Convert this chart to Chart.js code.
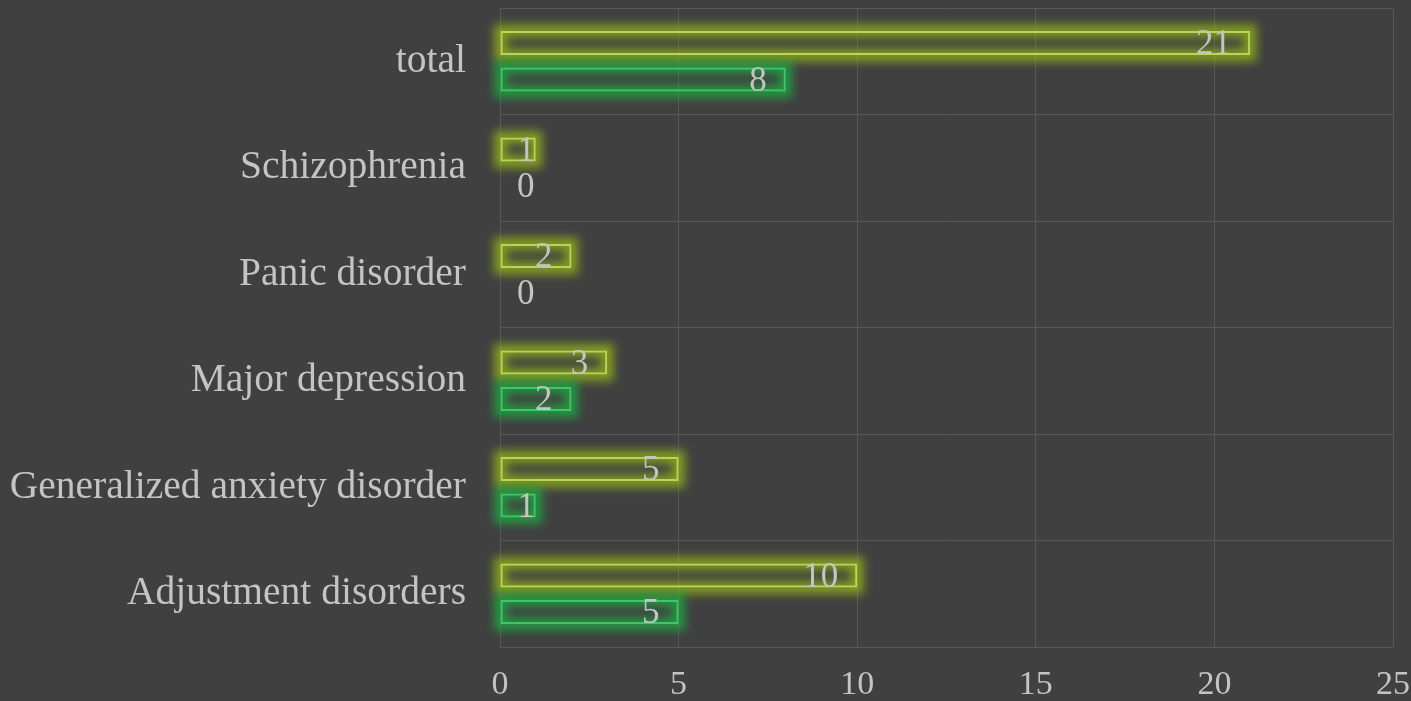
<!DOCTYPE html>
<html>
<head>
<meta charset="utf-8">
<script src="https://cdn.jsdelivr.net/npm/chart.js@4"></script>
<style>
  html, body { margin: 0; padding: 0; background: #404040; }
  #wrap { width: 1411px; height: 701px; }
</style>
</head>
<body>
<div id="wrap"><canvas id="myChart" width="1411" height="701"></canvas></div>
<script>
var categories = ['total', 'Schizophrenia', 'Panic disorder', 'Major depression', 'Generalized anxiety disorder', 'Adjustment disorders'];
var seriesA = [21, 1, 2, 3, 5, 10];
var seriesB = [8, 0, 0, 2, 1, 5];
var xTicks = [0, 5, 10, 15, 20, 25];

var textColor = '#c4c4c4';
var serif = "'Liberation Serif', 'Times New Roman', serif";

function noPad(scale) {
    scale.paddingLeft = 0;
    scale.paddingRight = 0;
    scale.paddingTop = 0;
    scale.paddingBottom = 0;
}

// soft neon glow behind each bar outline
var glowPlugin = {
    id: 'glow',
    beforeDatasetsDraw: function(chart) {
        var ctx = chart.ctx;
        chart.data.datasets.forEach(function(ds, di) {
            var meta = chart.getDatasetMeta(di);
            meta.data.forEach(function(el, i) {
                if (!ds.data[i]) return;
                var left = Math.min(el.x, el.base);
                var w = Math.abs(el.x - el.base);
                var top = el.y - el.height / 2;
                ctx.save();
                ctx.filter = 'blur(5px)';
                ctx.strokeStyle = ds.glowColor;
                ctx.lineWidth = 13;
                ctx.strokeRect(left, top, w, el.height);
                ctx.restore();
            });
        });
    }
};

// value labels, inside the end of the bar
var labelPlugin = {
    id: 'valueLabels',
    afterDatasetsDraw: function(chart) {
        var ctx = chart.ctx;
        ctx.save();
        ctx.font = '35px ' + serif;
        ctx.fillStyle = textColor;
        ctx.textBaseline = 'middle';
        ctx.textAlign = 'left';
        chart.data.datasets.forEach(function(ds, di) {
            var meta = chart.getDatasetMeta(di);
            meta.data.forEach(function(el, i) {
                var txt = String(ds.data[i]);
                var w = ctx.measureText(txt).width;
                var x = el.x - 19 - w;
                if (x < el.base + 17) x = el.base + 17;
                ctx.fillText(txt, x, el.y + 2);
            });
        });
        ctx.restore();
    }
};

var ctx = document.getElementById('myChart').getContext('2d');
var myChart = new Chart(ctx, {
    type: 'bar',
    data: {
        labels: categories,
        datasets: [{
            label: 'A',
            data: seriesA,
            backgroundColor: 'rgba(0,0,0,0)',
            borderColor: '#b6d55a',
            glowColor: 'rgba(160, 195, 20, 0.7)',
            borderWidth: 2,
            borderSkipped: false,
            barPercentage: 0.66,
            categoryPercentage: 0.685
        }, {
            label: 'B',
            data: seriesB,
            backgroundColor: 'rgba(0,0,0,0)',
            borderColor: '#3ec66a',
            glowColor: 'rgba(25, 185, 65, 0.7)',
            borderWidth: 2,
            borderSkipped: false,
            barPercentage: 0.66,
            categoryPercentage: 0.685
        }]
    },
    options: {
        indexAxis: 'y',
        responsive: false,
        animation: false,
        layout: { padding: { top: 8, right: 18, left: 0, bottom: 0 } },
        plugins: {
            legend: { display: false },
            tooltip: { enabled: false }
        },
        scales: {
            x: {
                min: 0,
                max: 25,
                afterBuildTicks: function(scale) {
                    scale.ticks = xTicks.map(function(v) { return { value: v }; });
                },
                afterFit: function(scale) { scale.height = 54; noPad(scale); },
                grid: { color: '#575757', lineWidth: 1, drawTicks: false },
                border: { display: false },
                ticks: {
                    color: textColor,
                    font: { family: serif, size: 34 },
                    padding: 18
                }
            },
            y: {
                afterFit: function(scale) { scale.width = 500; noPad(scale); },
                grid: { color: '#575757', lineWidth: 1, drawTicks: false, offset: true },
                border: { display: false },
                ticks: {
                    color: textColor,
                    font: { family: serif, size: 39.5 },
                    padding: 34
                }
            }
        }
    },
    plugins: [glowPlugin, labelPlugin]
});
</script>
</body>
</html>
